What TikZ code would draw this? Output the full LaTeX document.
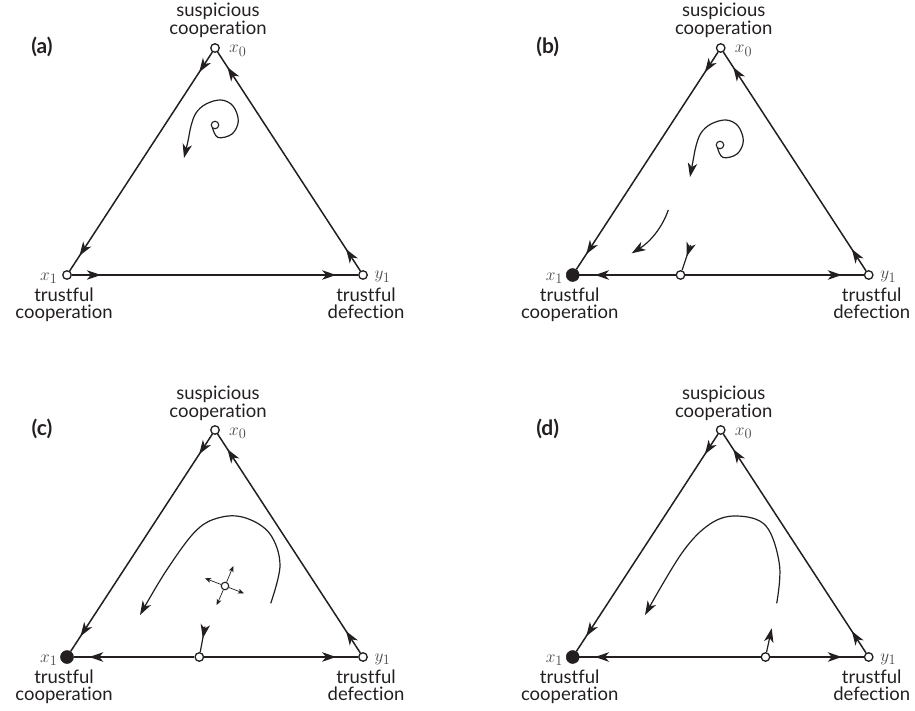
\documentclass[tikz,border=0pt]{standalone}
\usepackage{fontspec}
\newfontfamily\labfont[Ligatures={NoCommon,NoRequired,NoContextual}]{Lato}
\usetikzlibrary{arrows.meta,decorations.markings}
\definecolor{ink}{HTML}{231F20}
\newcommand\myahead{\arrow{Stealth[length=14pt,width=9.5pt,inset=4pt]}}
\tikzset{
  opendot/.style={circle, draw=ink, line width=1.3pt, fill=white, minimum size=8.5pt, inner sep=0pt},
  fulldot/.style={circle, draw=ink, fill=ink, line width=0.5pt, minimum size=13pt, inner sep=0pt},
  edgeline/.style={line width=1.5pt, draw=ink},
  twomarks/.style 2 args={postaction={decorate, decoration={markings,
      mark=at position #1 with {\myahead}, mark=at position #2 with {\myahead}}}},
  onemark/.style={postaction={decorate, decoration={markings,
      mark=at position #1 with {\myahead}}}},
  flowarrow/.style={-{Stealth[length=14pt,width=9.5pt,inset=4pt]}},
  flow/.style={line width=1.2pt, draw=ink},
  starar/.style={line width=0.7pt, draw=ink, -{Stealth[length=6pt,width=5pt,inset=1.6pt]}},
  word/.style={font=\labfont\fontsize{18.5}{20}\selectfont, inner sep=0pt, anchor=base, text=ink},
  mlab/.style={font=\fontsize{19}{21}\selectfont, text=black!72, inner sep=0pt},
  plab/.style={font=\labfont\bfseries\fontsize{21}{23}\selectfont, inner sep=0pt, text=ink}
}
% #1 suffix, #2 dx, #3 dy, #4 style of x1, #5 panel letter
\newcommand\basepanel[5]{%
  \begin{scope}[shift={(#2,#3)}]
    \node[opendot] (x0#1) at (215,48) {};
    \node[#4] (x1#1) at (67,275) {};
    \node[opendot] (y1#1) at (363,275) {};
    \node[plab] (lab#1) at (42,46.5) {(#5)};
    \node[mlab, anchor=base west] (x0t#1) at (229,53) {$x_0$};
    \node[mlab, anchor=base east] (x1t#1) at (57.5,280) {$x_1$};
    \node[mlab, anchor=base west] (y1t#1) at (374.5,279) {$y_1$};
    \node[word] (su#1) at (218,17) {suspicious};
    \node[word] (co#1) at (218,35) {cooperation};
    \node[word] (tl#1) at (64,301) {trustful};
    \node[word] (cl#1) at (64,318.5) {cooperation};
    \node[word] (tr#1) at (366,301) {trustful};
    \node[word] (de#1) at (366,318.5) {defection};
    \draw[edgeline, twomarks={24pt}{-18pt}] (x0#1) -- (x1#1);
    \draw[edgeline, twomarks={26pt}{-18pt}] (y1#1) -- (x0#1);
  \end{scope}}
\begin{document}
\begin{tikzpicture}[x=1pt,y=-1pt]
\useasboundingbox (0,0) rectangle (915,711);
% ---------- (a)
\basepanel{a}{0}{0}{opendot}{a}
\draw[edgeline, twomarks={29pt}{-22pt}] (x1a) -- (y1a);
\node[opendot, minimum size=7.5pt, line width=1.1pt] (ca) at (215,125) {};
\draw[flow, flowarrow] plot[smooth, tension=0.6] coordinates {
  (212.5,128) (218,137.5) (232,134) (238.3,121) (233,106) (221,100) (206,104)
  (196,113) (191,126) (188,141) (184,158)};
% ---------- (b)
\basepanel{b}{505.7}{0}{fulldot}{b}
\node[opendot] (sb) at (680.5,275) {};
\draw[edgeline, onemark={-15.5pt}] (sb) -- (x1b);
\draw[edgeline, onemark={-22pt}] (sb) -- (y1b);
\node[opendot, minimum size=7.5pt, line width=1.1pt] (cb) at (720,145) {};
\draw[flow, flowarrow] plot[smooth, tension=0.6] coordinates {
  (717.5,148) (723,157.5) (737,154) (743.3,141) (738,126) (726,120) (711,124)
  (701,133) (696,146) (693,161) (690,177)};
\coordinate (b2s) at (668.3,210);
\coordinate (b2e) at (631.7,253.3);
\draw[flow, flowarrow] (b2s) .. controls (662,228) and (650,242) .. (b2e);
\coordinate (b3) at (690.5,245);
\draw[flow, onemark={12pt}] (b3) -- (sb);
% ---------- (c)
\basepanel{c}{0}{382}{fulldot}{c}
\node[opendot] (sc) at (199.3,657) {};
\draw[edgeline, onemark={-15.5pt}] (sc) -- (x1c);
\draw[edgeline, onemark={-22pt}] (sc) -- (y1c);
\coordinate (c3) at (205,626.5);
\draw[flow, onemark={12pt}] (c3) -- (sc);
\node[opendot, minimum size=7.5pt, line width=1.1pt] (cc) at (225,586) {};
\coordinate (st1) at (233.3,566);
\coordinate (st2) at (205,578.3);
\coordinate (st3) at (244,593.3);
\coordinate (st4) at (216.7,605);
\foreach \t in {st1,st2,st3,st4} \draw[starar] (cc) -- (\t);
\draw[flow, flowarrow] plot[smooth, tension=0.6] coordinates {
  (270.7,603.3) (280,565) (270,534) (246.7,518.3) (222,517) (196.7,530) (166.7,570) (140,615)};
% ---------- (d)
\basepanel{d}{505.7}{382}{fulldot}{d}
\node[opendot] (sd) at (765.5,657) {};
\draw[edgeline, onemark={-15.5pt}] (sd) -- (x1d);
\draw[edgeline, onemark={-22pt}] (sd) -- (y1d);
\coordinate (d3) at (771.7,628.3);
\draw[flow, flowarrow] (sd) -- (d3);
\draw[flow, flowarrow] plot[smooth, tension=0.6] coordinates {
  (776.7,603.3) (779.5,565) (766,526) (737,516) (710,524) (681.7,553.3) (645,615)};
\end{tikzpicture}
\end{document}
